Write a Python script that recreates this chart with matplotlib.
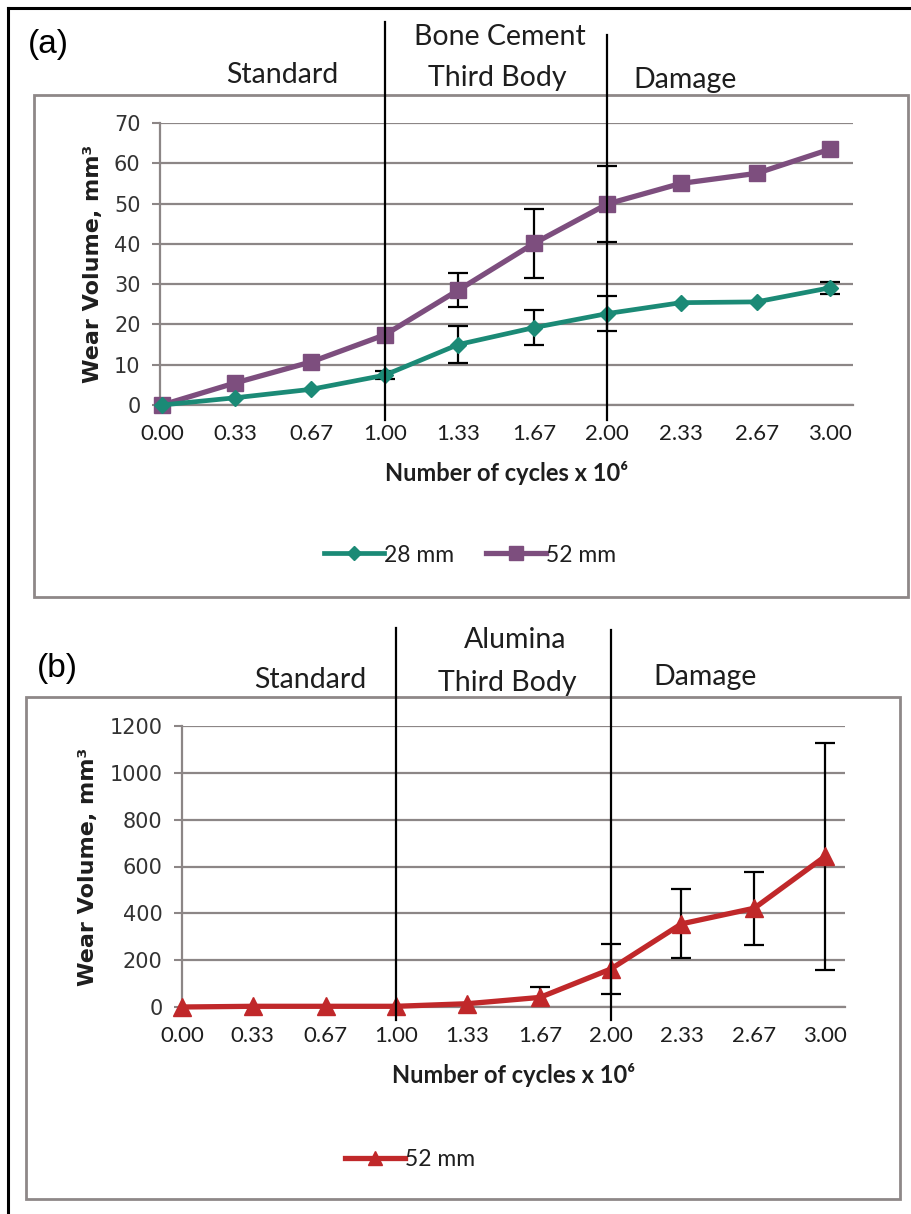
import numpy as np
import matplotlib
matplotlib.use("Agg")
import matplotlib.pyplot as plt
from matplotlib.patches import Rectangle
from matplotlib.lines import Line2D

# ---------------- data ----------------
cycles = [0.00, 0.33, 0.67, 1.00, 1.33, 1.67, 2.00, 2.33, 2.67, 3.00]
tick_labels = ["0.00", "0.33", "0.67", "1.00", "1.33", "1.67", "2.00", "2.33", "2.67", "3.00"]

a_28mm = [0.0, 1.8, 3.9, 7.4, 15.0, 19.2, 22.7, 25.4, 25.6, 29.1]
a_28mm_err = [0, 0, 0, 1.0, 4.5, 4.3, 4.3, 0, 0, 1.5]
a_52mm = [0.0, 5.5, 10.7, 17.4, 28.5, 40.1, 49.9, 55.0, 57.5, 63.5]
a_52mm_err = [0, 0, 0, 0, 4.2, 8.6, 9.5, 0, 0, 0]

b_52mm = [0, 3, 3, 3, 14, 41, 162, 355, 422, 643]
b_52mm_err = [0, 0, 0, 0, 0, 45, 105, 147, 156, 483]

a_yticks = [0, 10, 20, 30, 40, 50, 60, 70]
b_yticks = [0, 200, 400, 600, 800, 1000, 1200]
phase_bounds = [1.00, 2.00]

# ---------------- style ----------------
W, H = 912, 1214
fig = plt.figure(figsize=(W / 100, H / 100), dpi=100)
fig.patch.set_facecolor("white")

C28 = "#1b8a76"
C52 = "#7d4e7e"
CRED = "#c0282a"
GRID = "#8c8686"
TXT = "#1e1e1e"
TICK = "#333333"
CAL = ["Lato", "DejaVu Sans"]


def fx(px):
    return px / W


def fy(py):
    return 1 - py / H


# outer frame (left + top)
fig.add_artist(Line2D([fx(8), fx(8)], [fy(1220), fy(8)], color="black", lw=2.2,
                      transform=fig.transFigure))
fig.add_artist(Line2D([fx(8), fx(920)], [fy(8), fy(8)], color="black", lw=2.2,
                      transform=fig.transFigure))


def box(x0, y0, x1, y1):
    fig.add_artist(Rectangle((fx(x0), fy(y1)), fx(x1) - fx(x0), fy(y0) - fy(y1),
                             transform=fig.transFigure, fill=False,
                             edgecolor="#8e8888", lw=2.0, zorder=0))


box(34, 95, 908, 597)
box(26, 697, 900, 1199)


def make_axes(left, right, top, bottom):
    return fig.add_axes([fx(left), fy(bottom), fx(right) - fx(left), fy(top) - fy(bottom)])


def style_axes(ax, yticks, ylim, xlim):
    ax.set_xlim(*xlim)
    ax.set_ylim(*ylim)
    ax.set_yticks(yticks)
    ax.set_xticks(cycles)
    ax.set_xticklabels(tick_labels, family=CAL, fontsize=16, color=TXT)
    for lab in ax.get_yticklabels():
        lab.set_family("DejaVu Sans")
        lab.set_fontsize(15)
        lab.set_color(TICK)
    ax.grid(axis="y", color=GRID, lw=1.6)
    ax.set_axisbelow(True)
    for s in ["top", "right"]:
        ax.spines[s].set_visible(False)
    ax.spines["left"].set_color(GRID)
    ax.spines["left"].set_linewidth(1.6)
    ax.spines["bottom"].set_color(GRID)
    ax.spines["bottom"].set_linewidth(1.6)
    ax.tick_params(axis="y", length=6, width=1.5, color=GRID, pad=8)
    ax.tick_params(axis="x", length=0, pad=14)
    ax.patch.set_alpha(0)


def err_subset(ax, x, y, e, color="black"):
    xs = [xi for xi, ei in zip(x, e) if ei > 0]
    ys = [yi for yi, ei in zip(y, e) if ei > 0]
    es = [ei for ei in e if ei > 0]
    ax.errorbar(xs, ys, yerr=es, fmt="none", ecolor=color, elinewidth=1.6,
                capsize=7, capthick=1.6, zorder=2)


# ---------------- panel (a) ----------------
axA = make_axes(160, 853, 123, 405)
style_axes(axA, a_yticks, (0, 70), (-0.009, 3.103))
err_subset(axA, cycles, a_28mm, a_28mm_err)
err_subset(axA, cycles, a_52mm, a_52mm_err)
axA.plot(cycles, a_28mm, color=C28, lw=3.4, marker="D", ms=8.5, mec=C28, mfc=C28,
         label="28 mm", zorder=4, clip_on=False)
axA.plot(cycles, a_52mm, color=C52, lw=3.8, marker="s", ms=12, mec=C52, mfc=C52,
         label="52 mm", zorder=3, clip_on=False)
for xb, top in zip(phase_bounds, [(405 - 22) / 282, (405 - 35) / 282]):
    axA.axvline(xb, ymin=-15 / 282, ymax=top, color="black", lw=1.6, clip_on=False, zorder=5)

axA.set_ylabel("Wear Volume, mm³", family="DejaVu Sans", fontweight="bold",
               fontsize=16, color=TXT, labelpad=8)
axA.set_xlabel("Number of cycles x 10⁶", family=CAL, fontweight="bold",
               fontsize=17, color=TXT, labelpad=12)
legA = axA.legend(loc="center", bbox_to_anchor=(fx(470), fy(555)),
                  bbox_transform=fig.transFigure, ncol=2, frameon=False,
                  prop={"family": CAL, "size": 16.5}, handlelength=2.6,
                  handletextpad=0.0, columnspacing=1.4, markerscale=0.8)
for t in legA.get_texts():
    t.set_color(TXT)

fig.text(fx(48), fy(45), "(a)", family="Liberation Sans", fontsize=24, ha="center", va="center")
fig.text(fx(282), fy(75), "Standard", family=CAL, fontsize=20.5, ha="center", va="center", color=TXT)
fig.text(fx(500), fy(37), "Bone Cement", family=CAL, fontsize=20.5, ha="center", va="center", color=TXT)
fig.text(fx(497), fy(78), "Third Body", family=CAL, fontsize=20.5, ha="center", va="center", color=TXT)
fig.text(fx(685), fy(80), "Damage", family=CAL, fontsize=20.5, ha="center", va="center", color=TXT)

# ---------------- panel (b) ----------------
axB = make_axes(182, 845, 726, 1007)
style_axes(axB, b_yticks, (0, 1200), (0, 3.093))
err_subset(axB, cycles, b_52mm, b_52mm_err)
axB.plot(cycles, b_52mm, color=CRED, lw=3.8, marker="^", ms=13, mec=CRED, mfc=CRED,
         label="52 mm", zorder=3, clip_on=False)
for xb, top in zip(phase_bounds, [(1007 - 628) / 281, (1007 - 630) / 281]):
    axB.axvline(xb, ymin=-13 / 281, ymax=top, color="black", lw=1.6, clip_on=False, zorder=5)

axB.set_ylabel("Wear Volume, mm³", family="DejaVu Sans", fontweight="bold",
               fontsize=16, color=TXT, labelpad=8)
axB.set_xlabel("Number of cycles x 10⁶", family=CAL, fontweight="bold",
               fontsize=17, color=TXT, labelpad=12)
legB = axB.legend(loc="center", bbox_to_anchor=(fx(410), fy(1160)),
                  bbox_transform=fig.transFigure, ncol=1, frameon=False,
                  prop={"family": CAL, "size": 16.5}, handlelength=2.6,
                  handletextpad=0.0, markerscale=0.8)
for t in legB.get_texts():
    t.set_color(TXT)

fig.text(fx(57), fy(668), "(b)", family="Liberation Sans", fontsize=24, ha="center", va="center")
fig.text(fx(310), fy(680), "Standard", family=CAL, fontsize=20.5, ha="center", va="center", color=TXT)
fig.text(fx(515), fy(640), "Alumina", family=CAL, fontsize=20.5, ha="center", va="center", color=TXT)
fig.text(fx(507), fy(683), "Third Body", family=CAL, fontsize=20.5, ha="center", va="center", color=TXT)
fig.text(fx(705), fy(677), "Damage", family=CAL, fontsize=20.5, ha="center", va="center", color=TXT)

fig.savefig("out.png", dpi=100, facecolor="white")
